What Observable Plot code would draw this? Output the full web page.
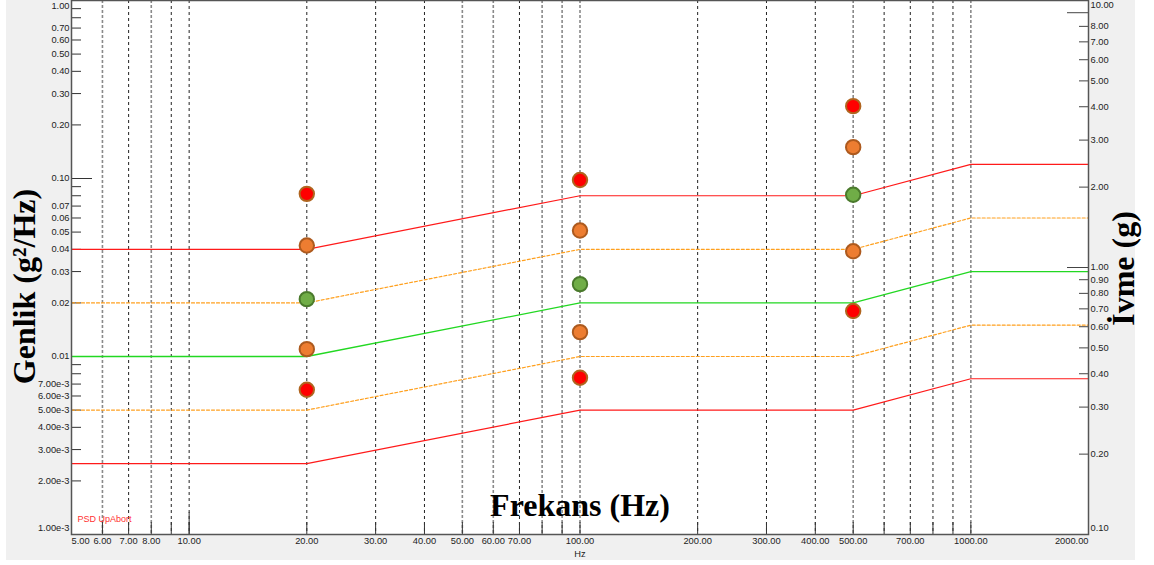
<!DOCTYPE html>
<html>
<head>
<meta charset="utf-8">
<script src="https://cdn.jsdelivr.net/npm/d3@7"></script>
<script src="https://cdn.jsdelivr.net/npm/@observablehq/plot@0.6"></script>
<style>
  html, body { margin: 0; padding: 0; background: #ffffff; }
  #wrap { position: relative; width: 1154px; height: 565px; }
  #bg { position: absolute; left: 6px; top: 0; width: 1129px; height: 560px; background: #f0f0f0; }
  #chart { position: absolute; left: 0; top: 0; }
</style>
</head>
<body>
<div id="wrap"><div id="bg"></div><div id="chart"></div></div>
<script>
// ---- profile (PSD, g²/Hz) ----
const freqs   = [5, 20, 100, 500, 1000, 2000];
const refPSD  = [0.01, 0.01, 0.02, 0.02, 0.03, 0.03];
const alarmHi = [0.02, 0.02, 0.04, 0.04, 0.06, 0.06];
const alarmLo = [0.005, 0.005, 0.01, 0.01, 0.015, 0.015];
const abortHi = [0.04, 0.04, 0.08, 0.08, 0.12, 0.12];
const abortLo = [0.0025, 0.0025, 0.005, 0.005, 0.0075, 0.0075];

// ---- measured points ----
const pointFreqs = [20, 100, 500];
const pts20  = [0.082, 0.042, 0.021, 0.011, 0.0065];
const pts100 = [0.098, 0.051, 0.0255, 0.0137, 0.0076];
const pts500 = [0.255, 0.150, 0.081, 0.039, 0.018];
const ptStatus = ["abort", "alarm", "ok", "alarm", "abort"];

// ---- axes ----
const gridBlack = [7, 9, 10, 20, 30, 40, 70, 200, 300, 400, 600, 700, 800, 900];
const gridGrey  = [6, 8, 50, 60, 80, 90, 100, 500, 1000];
const xLabels   = [6, 7, 8, 10, 20, 30, 40, 50, 60, 70, 100, 200, 300, 400, 500, 700, 1000];
const xFirst = 5, xLast = 2000;
const leftTicks  = [1, 0.9, 0.8, 0.7, 0.6, 0.5, 0.4, 0.3, 0.2, 0.1, 0.09, 0.08, 0.07, 0.06, 0.05, 0.04, 0.03, 0.02, 0.01,
                    0.009, 0.008, 0.007, 0.006, 0.005, 0.004, 0.003, 0.002, 0.001];
const leftLabels = [0.7, 0.6, 0.5, 0.4, 0.3, 0.2, 0.1, 0.07, 0.06, 0.05, 0.04, 0.03, 0.02, 0.01,
                    0.007, 0.006, 0.005, 0.004, 0.003, 0.002];
const leftTop = 1, leftBottom = 0.001;
const leftLong = [0.1];
const rightTicks  = [8, 7, 6, 5, 4, 3, 2, 0.9, 0.8, 0.7, 0.6, 0.5, 0.4, 0.3, 0.2];
const rightLabels = [8, 7, 6, 5, 4, 3, 2, 1, 0.9, 0.8, 0.7, 0.6, 0.5, 0.4, 0.3, 0.2];
const rightLong = [9, 1];
const rightTop = 10, rightBottom = 0.1;

// right axis (g) -> left scale (g²/Hz): both log axes share the same pixel span
const toPsd = r => Math.pow(r / rightTop, 1.5);

const W = 1154, H = 565, mL = 71, mR = 66, mT = 0, mB = 31;
const plotW = W - mL - mR, plotH = H - mT - mB;

const profile = (vals) => freqs.map((f, i) => ({f, v: vals[i]}));
const points = [];
[pts20, pts100, pts500].forEach((arr, j) => arr.forEach((v, i) => points.push({f: pointFreqs[j], v, status: ptStatus[i]})));

const fmtLeft = v => v >= 0.01 ? v.toFixed(2) : v.toExponential(2);
const fmt2 = v => v.toFixed(2);
const lab = {fontFamily: "Liberation Sans", fontSize: 9.3, fill: "#222"};
const big = {fontFamily: "Liberation Serif", fontWeight: "bold", fontSize: 32, fill: "#000"};

const chart = Plot.plot({
  width: W, height: H,
  marginLeft: mL, marginRight: mR, marginTop: mT, marginBottom: mB,
  style: {background: "transparent", overflow: "visible"},
  x: {type: "log", domain: [xFirst, xLast], axis: null},
  y: {type: "log", domain: [leftBottom, leftTop], axis: null},
  marks: [
    Plot.frame({fill: "white"}),
    Plot.ruleX(gridBlack, {x: d => d, stroke: "#222", strokeDasharray: "3,3", strokeWidth: 1}),
    Plot.ruleX(gridGrey, {x: d => d, stroke: "#8a8a8a", strokeDasharray: "3,2", strokeWidth: 1.6}),
    // bottom ticks
    Plot.tickX([...gridBlack, ...gridGrey], {x: d => d, stroke: "#333", insetTop: plotH - 12}),
    Plot.tickX([10], {x: d => d, stroke: "#333", insetTop: plotH - 22}),
    // left ticks
    Plot.tickY(leftTicks, {y: d => d, stroke: "#333", insetRight: plotW - 10}),
    Plot.tickY(leftLong, {y: d => d, stroke: "#333", insetRight: plotW - 21}),
    // right ticks
    Plot.tickY(rightTicks, {y: toPsd, stroke: "#444", insetLeft: plotW - 9}),
    Plot.tickY(rightLong, {y: toPsd, stroke: "#444", insetLeft: plotW - 21}),
    // profile lines
    Plot.line(profile(abortHi), {x: "f", y: "v", stroke: "#ff1a1a", strokeWidth: 1.2}),
    Plot.line(profile(abortLo), {x: "f", y: "v", stroke: "#ff1a1a", strokeWidth: 1.2}),
    Plot.line(profile(alarmHi), {x: "f", y: "v", stroke: "#ffa01e", strokeWidth: 1.2, strokeDasharray: "3,2"}),
    Plot.line(profile(alarmLo), {x: "f", y: "v", stroke: "#ffa01e", strokeWidth: 1.2, strokeDasharray: "3,2"}),
    Plot.line(profile(refPSD), {x: "f", y: "v", stroke: "#22d822", strokeWidth: 1.3}),
    // measured points
    Plot.dot(points.filter(d => d.status === "abort"), {x: "f", y: "v", r: 7.2, fill: "#ff0000", stroke: "#b0641e", strokeWidth: 2}),
    Plot.dot(points.filter(d => d.status === "alarm"), {x: "f", y: "v", r: 7.2, fill: "#ed7d31", stroke: "#ad5a1e", strokeWidth: 2}),
    Plot.dot(points.filter(d => d.status === "ok"), {x: "f", y: "v", r: 7.2, fill: "#70ad47", stroke: "#4a7a2c", strokeWidth: 2}),
    // left labels
    Plot.text(leftLabels, {y: d => d, text: fmtLeft, frameAnchor: "left", textAnchor: "end", dx: -2, ...lab}),
    Plot.text([leftTop], {y: d => d, text: fmtLeft, frameAnchor: "left", textAnchor: "end", dx: -2, dy: 6, ...lab}),
    Plot.text([leftBottom], {y: d => d, text: fmtLeft, frameAnchor: "left", textAnchor: "end", dx: -2, dy: -6, ...lab}),
    // right labels
    Plot.text(rightLabels, {y: toPsd, text: fmt2, frameAnchor: "right", textAnchor: "start", dx: 2, ...lab}),
    Plot.text([rightTop], {y: toPsd, text: fmt2, frameAnchor: "right", textAnchor: "start", dx: 2, dy: 5, ...lab}),
    Plot.text([rightBottom], {y: toPsd, text: fmt2, frameAnchor: "right", textAnchor: "start", dx: 2, dy: -6, ...lab}),
    // bottom labels
    Plot.text(xLabels, {x: d => d, text: fmt2, frameAnchor: "bottom", lineAnchor: "top", dy: 3, ...lab}),
    Plot.text([xFirst], {x: d => d, text: fmt2, frameAnchor: "bottom", lineAnchor: "top", textAnchor: "start", dy: 3, ...lab}),
    Plot.text([xLast], {x: d => d, text: fmt2, frameAnchor: "bottom", lineAnchor: "top", textAnchor: "end", dy: 3, ...lab}),
    Plot.text(["Hz"], {frameAnchor: "bottom", lineAnchor: "top", dy: 16, ...lab}),
    // titles
    Plot.text(["Frekans (Hz)"], {frameAnchor: "bottom", dy: -19, ...big}),
    Plot.text(["Genlik (g²/Hz)"], {frameAnchor: "left", textAnchor: "middle", rotate: -90, dx: -47, dy: 19, ...big}),
    Plot.text(["İvme (g)"], {frameAnchor: "right", textAnchor: "middle", rotate: -90, dx: 35, dy: 1, ...big}),
    Plot.text(["PSD UpAbort"], {frameAnchor: "bottom-left", textAnchor: "start", dx: 6, dy: -13, fontFamily: "Liberation Sans", fontSize: 9, fill: "#ff3030"}),
    Plot.frame({stroke: "#555", strokeWidth: 1.5})
  ]
});
document.getElementById("chart").appendChild(chart);
</script>
</body>
</html>
